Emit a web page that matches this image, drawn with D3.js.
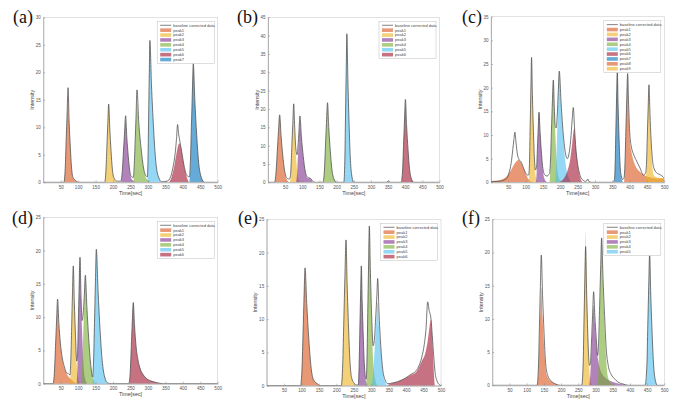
<!DOCTYPE html>
<html><head><meta charset="utf-8">
<script src="https://cdn.jsdelivr.net/npm/d3@7"></script>
<style>html,body{margin:0;padding:0;background:#fff;}svg{display:block;}</style>
</head><body>
<svg id="chart" width="686" height="408"></svg>
<script>
// ---------------- DATA ----------------
const xTickValues = [50,100,150,200,250,300,350,400,450,500];
const panelLetters = ["(a)","(b)","(c)","(d)","(e)","(f)"];
const yMaxes = [30,45,35,25,25,25];
const lineLabel = "baseline corrected data";
const peakNames = ["peak1","peak2","peak3","peak4","peak5","peak6","peak7","peak8","peak9"];
const peakCounts = [7,6,9,6,6,5];

// (a)
const lineA = [[0,0],[59,0],[62.8,2.5],[65.5,7.6],[68.3,12.6],[71,17.2],[73.8,11.5],[77.3,6.6],[80.8,2.8],[85,0.9],[95,0.2],[100,0],
 [176,0],[179.6,2.2],[182.3,6.4],[184.9,10.7],[187.5,14.2],[190.5,9.9],[194.3,5.6],[198,2.4],[202.5,0.8],[212,0.2],
 [222,0.2],[226.3,1.9],[229.5,5.3],[232.8,8.9],[236,12.1],[239.4,8.2],[243.7,4.7],[247.9,2.1],[253,1],[258,0.9],[260.6,3],[263.3,7.4],[265.9,12],[268.5,16.8],[273.9,10.7],[280.7,6],[287.4,2.6],[293,1.3],[298.5,1],[300.3,4.6],[302,12],[303.8,19.5],[305.5,25.8],[310.1,17.8],[315.9,10.1],[321.6,4.4],[328.5,1.3],[340,0.1],
 [355,0.2],[365,1],[372,2.8],[378,5.2],[382,8],[385,10.5],[388,8.8],[392,7.3],[397,5.5],[403,3.2],[409,1.6],[414,1.1],[419,1],[421.8,4],[424.5,10],[427.3,16.2],[430,21.6],[434.4,15],[439.9,8.5],[445.4,3.6],[452,1.1],[462,0],[500,0]];
const peaksA = [
 [[60,0],[62.8,2.4],[65.5,7.2],[68.3,11.9],[71,15.9],[73.8,11.1],[77.3,6.4],[80.8,2.7],[85,0.8],[95,0.2],[100,0]],
 [[177,0],[179.6,2.1],[182.3,6.2],[184.9,10.4],[187.5,13.8],[190.5,9.7],[194.3,5.5],[198,2.3],[202.5,0.7],[215,0]],
 [[223,0],[226.3,1.7],[229.5,5.1],[232.8,8.5],[236,11.3],[239.4,7.9],[243.7,4.5],[247.9,1.9],[253,0.6],[265,0]],
 [[258,0],[260.6,2.2],[263.3,6.5],[265.9,10.9],[268.5,14.5],[273.9,10.2],[280.7,5.8],[287.4,2.5],[295.5,0.7],[310,0]],
 [[298.5,0],[300.3,3.8],[302,11.3],[303.8,18.8],[305.5,25],[310.1,17.5],[315.9,10],[321.6,4.3],[328.5,1.3],[340,0]],
 [[360,0],[367,0.8],[374,2.5],[380,4.6],[385,6.3],[390,7.1],[395,6.2],[400,4.3],[406,2.2],[412,0.8],[418,0]],
 [[419,0],[421.8,3.2],[424.5,9.5],[427.3,15.8],[430,21],[434.4,14.7],[439.9,8.4],[445.4,3.6],[452,1.1],[462,0]]
];
// (b)
const lineB = [[0,0],[19,0],[23.5,2.8],[27,8.3],[30.5,13.8],[34,18.4],[38,12.8],[43,7.4],[48,3.4],[54,1.3],[60,0.9],[64,1.1],[66.8,3.6],[69.5,9.8],[72.3,16],[75,21.4],[77.8,15],[81.3,9],[84.8,7.5],[87.5,10],[90.3,14],[93,18.1],[97.4,12.4],[102.9,7],[108.4,3.1],[115,1.4],[120,1.2],[125,1],[130,0.3],[138,0],
 [160,0],[164.5,3.3],[167.5,9.8],[170.5,16.3],[173.5,21.7],[177.1,15],[181.6,8.6],[186.1,3.7],[191.5,1.1],[200,0],[221,0],[224,6.1],[226,18.3],[228,30.5],[230,40.5],[232.8,28.3],[236.3,16.2],[239.8,6.9],[244,2],[250,0],
 [345,0],[351,0.4],[357,0],[388,0],[392.4,3.3],[395.1,10],[397.9,16.7],[400.6,22.6],[404,15.6],[408.3,8.9],[412.5,3.8],[417.6,1.1],[425,0],[500,0]];
const peaksB = [
 [[20,0],[23.5,2.7],[27,8.1],[30.5,13.5],[34,18],[38,12.6],[43,7.2],[48,3.1],[54,0.9],[62,0]],
 [[64,0],[66.8,2.9],[69.5,8.8],[72.3,14.6],[75,19.5],[77.8,13.7],[81.3,7.8],[84.8,3.3],[89,1],[96,0]],
 [[82,0],[84.8,2.5],[87.5,7.6],[90.3,12.6],[93,16.8],[97.4,11.8],[102.9,6.7],[108.4,2.9],[115,1.2],[120,1.1],[125,0.8],[130,0]],
 [[161.5,0],[164.5,3.2],[167.5,9.5],[170.5,15.8],[173.5,21],[177.1,14.7],[181.6,8.4],[186.1,3.6],[191.5,1.1],[200,0]],
 [[222,0],[224,6],[226,18],[228,30],[230,40],[232.8,28],[236.3,16],[239.8,6.8],[244,2],[250,0]],
 [[389.6,0],[392.4,3.2],[395.1,9.7],[397.9,16.1],[400.6,21.5],[404,15.1],[408.3,8.6],[412.5,3.7],[417.6,1.1],[425,0]]
];
// (c)
const lineC = [[0,0.1],[30,0.3],[45,0.8],[52,2],[58,4],[63,7],[66,9],[69,10.6],[72,8.5],[76,6],[81,4.8],[86,4.4],[92,3.4],[99,2.1],[106,1.5],[109,1.6],[111,4],[113,11.8],[115,19.4],[117,26.4],[119.4,18.5],[122.4,10.8],[125.4,4.9],[128,2.6],[131.8,3.5],[134,7.2],[136.3,11.5],[138.5,14.8],[141.7,10.5],[145.7,6],[149.7,2.9],[155,1.6],[162,1.3],[166,1.6],[168.8,1.8],[171.6,4.5],[174.3,10.8],[177.1,17],[179.8,21.6],[182.8,15.5],[185,12],[188,11.5],[191,14],[194,19],[197,23.5],[202.2,16.8],[208.7,10],[215.2,6],[220,5],[225,6],[230,9],[234,13],[237.5,15.8],[241,11.5],[245,7],[250,3.8],[255,2],[260,0.9],[266,0.4],[272,0.2],[276,0.3],[279,0.7],[282,0.2],[290,0],[352,0],[356,0.5],[358.1,3.6],[360.2,10.8],[362.3,17.8],[364.4,23.7],[366.6,16.6],[369.4,9.5],[372.1,4.1],[375.4,1.5],[380,0.6],[384,1],[386.5,4],[389,10.5],[391.6,17.3],[394.2,23],[397,16.4],[400.5,10.2],[405,7.5],[412,5.8],[420,4.5],[430,3],[440,1.5],[446,2],[448.5,3.8],[451,9.8],[453.4,15.6],[455.8,20.6],[458.5,14.8],[462,8.8],[465.5,5],[470,3],[478,2],[488,1.6],[496,1.2],[500,0.9]];
const peaksC = [
 [[0,0.3],[20,0.4],[35,0.7],[48,1.5],[58,2.6],[66,3.7],[73,4.4],[79,4.7],[85,4.3],[92,3.3],[99,2],[106,0.9],[113,0.3],[120,0]],
 [[109,0],[111,3.8],[113,11.5],[115,19.1],[117,25.5],[119.4,17.9],[122.4,10.2],[125.4,4.3],[129,1.3],[134,0]],
 [[129.5,0],[131.8,2.2],[134,6.7],[136.3,11.1],[138.5,14.8],[141.7,10.4],[145.7,5.9],[149.7,2.5],[154.5,0.7],[162,0]],
 [[168.8,0],[171.6,3.2],[174.3,9.6],[177.1,16],[179.8,21.3],[182.8,14.9],[186.6,8.5],[190.3,3.6],[194.8,1.1],[202,0]],
 [[185,0],[188,3.5],[191,10.4],[194,17.3],[197,23],[202.2,16.1],[208.7,9.2],[215.2,3.9],[223,1.2],[232,0]],
 [[199,0],[210,0.8],[220,2.3],[228,4.6],[234,8],[240,11.4],[244,8],[249,4.5],[254,2],[259,0.6],[265,0]],
 [[356,0],[358.1,3.5],[360.2,10.6],[362.3,17.6],[364.4,23.5],[366.6,16.5],[369.4,9.4],[372.1,4],[375.4,1.2],[381,0]],
 [[384,0],[386.5,3.4],[389,10],[391.6,16.9],[394.2,22.5],[397,15],[400.5,9],[405,6.5],[412,4.4],[420,3],[430,2.2],[440,1.6],[450,1.2],[465,0.9],[480,0.8],[500,0.8]],
 [[446,0],[448.5,2.9],[451,8.8],[453.4,14.6],[455.8,19.5],[458.5,13.7],[462,7.8],[465.5,3.3],[470,1.5],[480,1],[490,0.9],[500,0.9]]
];
// (d)
const lineD = [[0,0],[28,0],[32,1.9],[35,5.6],[38,9.4],[41,12.7],[44.5,9.2],[49,6.1],[54,4],[60,2.6],[67,1.6],[72,1.5],[76.5,1.3],[78.9,3.6],[81.3,8.5],[83.6,13.5],[86,17.7],[88.8,12.4],[92.3,7.2],[95.8,3.4],[98,4.2],[100.4,9.2],[102.8,14.6],[105.2,19],[108,13.3],[111.5,9.5],[114.3,10.5],[117.4,13],[120.5,16.3],[124.9,11.6],[130.4,6.6],[135.9,2.9],[141.5,1],[144.1,3.4],[146.8,9.2],[149.4,15.2],[152,20.2],[156.8,14.2],[162.8,8],[168.8,3.5],[176,1],[185,0.1],[195,0],[245,0],[249.4,1.9],[252.3,5.6],[255.1,9.3],[258,12.2],[261.5,8.8],[266,5.6],[271,3.7],[278,2.2],[287,1.3],[298,0.7],[312,0.35],[330,0.1],[345,0],[500,0]];
const peaksD = [
 [[29,0],[32,1.8],[35,5.4],[38,9],[41,12],[44.5,8.8],[49,5.8],[54,3.8],[60,2.4],[67,1.5],[75,0.9],[85,0.4],[95,0]],
 [[76.5,0],[78.9,2.6],[81.3,7.7],[83.6,12.9],[86,17.2],[88.8,12],[92.3,6.9],[95.8,2.9],[100,0.9],[106,0]],
 [[95.6,0],[98,2.8],[100.4,8.4],[102.8,14],[105.2,18.6],[108,13],[111.5,7.4],[115,3.2],[119.2,0.9],[126,0]],
 [[108,0],[111.1,2.4],[114.3,7.2],[117.4,12],[120.5,16],[124.9,11.2],[130.4,6.4],[135.9,2.7],[142.5,0.8],[150,0]],
 [[141.5,0],[144.1,3],[146.8,8.9],[149.4,14.9],[152,19.8],[156.8,13.9],[162.8,7.9],[168.8,3.4],[176,1],[185,0]],
 [[246.5,0],[249.4,1.8],[252.3,5.4],[255.1,9],[258,12],[261.5,8.6],[266,5.5],[271,3.6],[278,2.2],[287,1.3],[298,0.7],[312,0.35],[330,0.1],[345,0]]
];
// (e)
const lineE = [[0,0],[97,0],[101.4,2.7],[104.3,8],[107.1,13.3],[110,17.7],[114.8,12.4],[120.8,7],[126.8,3],[134,0.9],[145,0.3],[153,0],[214,0],[218.1,3.3],[221.3,9.9],[224.4,16.4],[227.5,21.9],[230.7,15.3],[234.7,8.8],[238.7,3.8],[243.5,1.2],[252,0.3],[258,0.1],[262.8,0.1],[265,2.8],[267.1,8.2],[269.3,13.6],[271.4,18],[273.9,12.6],[277.1,7.2],[280.2,3.1],[283,1.4],[285.4,1],[287.7,4],[289.9,11],[292.2,18],[294.4,24],[297.5,17],[301.4,10],[305.3,6],[309,7],[313,10.5],[316,13.5],[318.3,16.1],[322.5,10.5],[327.8,5.5],[333,2.4],[339.3,0.9],[347,0.3],[360,0.4],[375,0.6],[387,0.85],[400,1.2],[413,1.7],[426,2.1],[435,2.8],[445,4.3],[452,6.2],[457,8.5],[461.8,12.6],[466,11.3],[471.4,10],[475,7.5],[479,4.5],[483,2],[488,0.8],[494,0.2],[500,0]];
const peaksE = [
 [[98.5,0],[101.4,2.6],[104.3,7.7],[107.1,12.8],[110,17.1],[114.8,12],[120.8,6.8],[126.8,2.9],[134,0.9],[145,0.3],[153,0]],
 [[215,0],[218.1,3.2],[221.3,9.7],[224.4,16.1],[227.5,21.5],[230.7,15],[234.7,8.6],[238.7,3.7],[243.5,1.1],[252,0.3],[258,0]],
 [[262.8,0],[265,2.7],[267.1,8],[269.3,13.4],[271.4,17.8],[273.9,12.5],[277.1,7.1],[280.2,3],[284,0.9],[290,0]],
 [[285.4,0],[287.7,3.5],[289.9,10.6],[292.2,17.6],[294.4,23.5],[297.5,16.5],[301.4,9.4],[305.3,4],[310,1.2],[318,0]],
 [[301.3,0],[305.6,1.9],[309.8,5.7],[314.1,9.5],[318.3,12.6],[322.5,8.8],[327.8,5],[333,2.1],[339.3,0.6],[347,0]],
 [[345,0],[359,0.35],[375,0.6],[387,0.85],[400,1.2],[413,1.6],[426,1.9],[435,2.6],[445,3.7],[455,4.9],[462,6.8],[467,8.8],[471.4,9.9],[474,8],[477,5],[480,1.5],[482,0]]
];
// (f)
const lineF = [[0,0],[130,0],[134.2,2.9],[137,8.8],[139.7,14.7],[142.4,19.6],[146,13.7],[150.5,7.8],[155,3.3],[161,1.5],[170,0.7],[184,0.2],[197,0],[260,0],[264,3.1],[266.5,9.4],[268.9,15.7],[271.3,20.9],[273.9,14.6],[277.1,8.5],[280.4,4],[283,3],[285.2,3.3],[288.3,6.5],[291.5,10.5],[294.6,14.1],[298,10.5],[302,7.2],[306.2,4.5],[309.1,6.5],[312,12],[314.9,17.5],[317.8,22.2],[321.6,16.5],[326.4,10.5],[331.2,5.5],[337,3],[346,1.6],[355,1],[365,0.5],[380,0.2],[395,0],[444,0],[449.4,3],[452,9],[454.7,14.9],[457.4,19.9],[460.5,13.9],[464.5,8],[468.5,3.4],[473,1],[480,0],[500,0]];
const peaksF = [
 [[131.5,0],[134.2,2.2],[137,6.7],[139.7,11.1],[142.4,14.8],[146,10.4],[150.5,5.9],[155,2.5],[161,1.2],[170,0.6],[184,0.2],[197,0]],
 [[261.6,0],[264,3.5],[266.5,10.4],[268.9,17.3],[271.3,23.1],[273.9,16.2],[277.1,9.2],[280.4,3.9],[284.3,1.2],[290,0]],
 [[282,0],[285.2,1.8],[288.3,5.4],[291.5,9],[294.6,12],[298,9.5],[302,6.5],[307,4],[313,2.5],[321,1.6],[332,1],[345,0.6],[360,0.35],[378,0.15],[395,0]],
 [[306.2,0],[309.1,3.3],[312,9.9],[314.9,16.5],[317.8,22],[321.6,15.4],[326.4,8.8],[331.2,3.7],[337,1.1],[346,0.3],[355,0]],
 [[446.7,0],[449.4,3],[452,9],[454.7,14.9],[457.4,19.9],[460.5,13.9],[464.5,8],[468.5,3.4],[473,1],[480,0]]
];

const allLines = [lineA,lineB,lineC,lineD,lineE,lineF];
const allPeaks = [peaksA,peaksB,peaksC,peaksD,peaksE,peaksF];

// ---------------- LAYOUT / STYLE ----------------
const peakColors = ["#D95319","#EDB120","#7E2F8E","#77AC30","#4DBEEE","#A2142F","#0072BD","#D95319","#EDB120"];
const layout = [
 {l:43.3,r:217.7,t:17.3,b:182.3, lx:13, ly:23, ylx:34},
 {l:268,r:439.5,t:17.3,b:182.3, lx:237, ly:23, ylx:259},
 {l:491,r:664.3,t:16.7,b:182.3, lx:462, ly:23, ylx:482},
 {l:43.3,r:217.7,t:217.3,b:383.7, lx:12, ly:224, ylx:34},
 {l:266.7,r:441,t:219.3,b:385.7, lx:238, ly:224, ylx:257},
 {l:492.3,r:664.3,t:219.3,b:385.3, lx:462, ly:224, ylx:483}
];
const FONT = "'Liberation Sans', Arial, sans-serif";

const svg = d3.select("#chart");

layout.forEach((L, i) => {
  const g = svg.append("g");
  const x = d3.scaleLinear().domain([0,500]).range([L.l, L.r]);
  const y = d3.scaleLinear().domain([0,yMaxes[i]]).range([L.b, L.t]);

  const clipId = "clip"+i;
  svg.append("clipPath").attr("id",clipId).append("rect")
    .attr("x",L.l).attr("y",L.t).attr("width",L.r-L.l).attr("height",L.b-L.t);

  g.append("rect").attr("x",L.l).attr("y",L.t).attr("width",L.r-L.l).attr("height",L.b-L.t)
    .attr("fill","none").attr("stroke","#cfcfcf").attr("stroke-width",0.6);

  const area = d3.area().x(d=>x(d[0])).y0(y(0)).y1(d=>y(d[1])).curve(d3.curveMonotoneX);
  const line = d3.line().x(d=>x(d[0])).y(d=>y(d[1])).curve(d3.curveMonotoneX);

  const pg = g.append("g").attr("clip-path","url(#"+clipId+")");
  allPeaks[i].forEach((pk, k) => {
    pg.append("path").attr("d", area(pk)).attr("fill", peakColors[k]).attr("fill-opacity",0.6).attr("stroke","none");
  });
  pg.append("path").attr("d", line(allLines[i])).attr("fill","none").attr("stroke","#4a4a4a").attr("stroke-width",0.75);

  const ax = g.append("g").attr("transform","translate(0,"+L.b+")")
    .call(d3.axisBottom(x).tickValues(xTickValues).tickSize(-2).tickSizeOuter(0).tickPadding(3));
  const ay = g.append("g").attr("transform","translate("+L.l+",0)")
    .call(d3.axisLeft(y).tickValues(d3.range(0, yMaxes[i]+0.1, 5)).tickSize(-2).tickSizeOuter(0).tickPadding(2.5));
  [ax,ay].forEach(a => {
    a.select(".domain").attr("stroke","#8a8a8a").attr("stroke-width",0.6);
    a.selectAll(".tick line").attr("stroke","#8a8a8a").attr("stroke-width",0.5);
    a.selectAll(".tick text").attr("fill","#555").style("font-family",FONT).style("font-size","4.6px");
  });

  g.append("text").attr("x",(L.l+L.r)/2).attr("y",L.b+12.5).attr("text-anchor","middle")
    .style("font-family",FONT).style("font-size","5.4px").attr("fill","#444").text("Time[sec]");
  g.append("text").attr("transform","translate("+L.ylx+","+((L.t+L.b)/2)+") rotate(-90)")
    .attr("text-anchor","middle").style("font-family",FONT).style("font-size","5.4px").attr("fill","#444").text("Intensity");

  svg.append("text").attr("x",L.lx).attr("y",L.ly).style("font-family","'Liberation Serif', 'Times New Roman', serif")
    .style("font-size","18px").attr("fill","#111").text(panelLetters[i]);

  const n = peakCounts[i];
  const rowH = 4.9, lw = 57;
  const lgx = L.r - 3.5 - lw, lgy = L.t + 4;
  const lg = g.append("g");
  lg.append("rect").attr("x",lgx).attr("y",lgy).attr("width",lw).attr("height",(n+1)*rowH+3)
    .attr("fill","#fff").attr("stroke","#bdbdbd").attr("stroke-width",0.5);
  const rows = [lineLabel].concat(peakNames.slice(0,n));
  rows.forEach((lab, j) => {
    const cy = lgy + 1.5 + rowH*j + rowH/2;
    if (j === 0) {
      lg.append("line").attr("x1",lgx+3).attr("x2",lgx+14).attr("y1",cy).attr("y2",cy)
        .attr("stroke","#4a4a4a").attr("stroke-width",0.7);
    } else {
      lg.append("rect").attr("x",lgx+3).attr("y",cy-1.8).attr("width",11).attr("height",3.6)
        .attr("fill",peakColors[j-1]).attr("fill-opacity",0.6);
    }
    lg.append("text").attr("x",lgx+16).attr("y",cy+1.4).style("font-family",FONT).style("font-size","4px")
      .attr("fill","#444").text(lab);
  });
});
</script>
</body></html>
